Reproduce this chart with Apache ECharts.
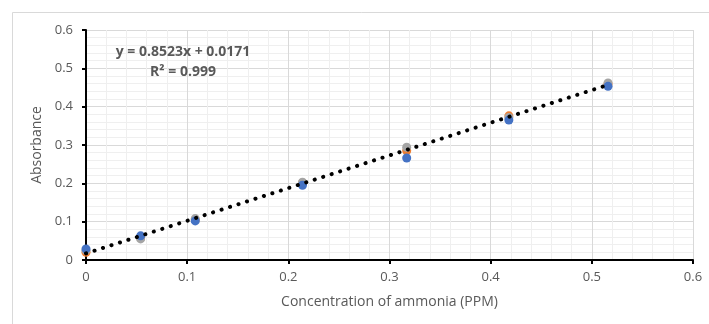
<!DOCTYPE html>
<html>
<head>
<meta charset="utf-8">
<script src="https://cdn.jsdelivr.net/npm/echarts@6/dist/echarts.min.js"></script>
<style>html,body{margin:0;padding:0;background:#fff;}#c{width:709px;height:324px;}</style>
</head>
<body>
<div id="c"></div>
<script>
// Concentration of ammonia (PPM)
const xValues = [0, 0.054, 0.108, 0.214, 0.317, 0.418, 0.516];
// three replicate absorbance readings
const seriesOrange = [0.020, 0.058, 0.105, 0.201, 0.285, 0.376, 0.459];
const seriesGray = [0.025, 0.055, 0.108, 0.203, 0.294, 0.372, 0.462];
const seriesBlue = [0.029, 0.063, 0.102, 0.195, 0.266, 0.365, 0.453];
// linear trendline endpoints (y = 0.8523x + 0.0171)
const trendX = [0, 0.516];
const trendY = [0.0171, 0.4569];
const equationText = 'y = 0.8523x + 0.0171';
const r2Text = 'R² = 0.999';
const xTitle = 'Concentration of ammonia (PPM)';
const yTitle = 'Absorbance';

const font = '"Open Sans", "Liberation Sans", sans-serif';
const pairs = ys => xValues.map((x, i) => [x, ys[i]]);
const sc = (name, color, ys) => ({
  name, type: 'scatter', data: pairs(ys), symbolSize: 9,
  itemStyle: { color, opacity: 1 }, z: 3
});

const chart = echarts.init(document.getElementById('c'), null, { renderer: 'canvas' });
chart.setOption({
  animation: false,
  backgroundColor: '#fff',
  grid: { left: 86, right: 16, top: 30, bottom: 64 },
  xAxis: {
    type: 'value', min: 0, max: 0.6, interval: 0.1,
    name: xTitle, nameLocation: 'middle', nameGap: 35,
    nameTextStyle: { color: '#595959', fontSize: 14, fontFamily: font },
    axisLine: { show: true, onZero: false, lineStyle: { color: '#000', width: 2 } },
    axisTick: { show: true, length: 4, lineStyle: { color: '#000', width: 2 } },
    axisLabel: { color: '#595959', fontSize: 13, fontFamily: font, margin: 11 },
    splitLine: { show: true, lineStyle: { color: '#d9d9d9', width: 1 } },
    minorTick: { show: false, splitNumber: 5 },
    minorSplitLine: { show: true, lineStyle: { color: '#efefef', width: 1 } }
  },
  yAxis: {
    type: 'value', min: 0, max: 0.6, interval: 0.1,
    name: yTitle, nameLocation: 'middle', nameGap: 39, nameRotate: 90,
    nameTextStyle: { color: '#595959', fontSize: 14, fontFamily: font },
    axisLine: { show: true, onZero: false, lineStyle: { color: '#000', width: 2 } },
    axisTick: { show: true, length: 4, lineStyle: { color: '#000', width: 2 } },
    axisLabel: { color: '#595959', fontSize: 13, fontFamily: font, margin: 13 },
    splitLine: { show: true, lineStyle: { color: '#d9d9d9', width: 1 } },
    minorTick: { show: false, splitNumber: 5 },
    minorSplitLine: { show: true, lineStyle: { color: '#efefef', width: 1 } }
  },
  series: [
    sc('Orange', '#ed7d31', seriesOrange),
    sc('Gray', '#a5a5a5', seriesGray),
    sc('Blue', '#4472c4', seriesBlue),
    {
      name: 'Trend', type: 'line', data: trendX.map((x, i) => [x, trendY[i]]),
      showSymbol: false, symbol: 'none', z: 5,
      lineStyle: { color: '#000', width: 4, type: [0.1, 8.8], cap: 'round' }
    }
  ],
  graphic: [
    { type: 'rect', left: 10, top: 10, shape: { width: 760, height: 400 },
      style: { fill: 'none', stroke: '#d9d9d9', lineWidth: 1 }, z: -10, silent: true },
    { type: 'text', x: 183, y: 52, style: { text: equationText, fill: '#595959',
      font: 'bold 14px ' + font, textAlign: 'center', textVerticalAlign: 'middle' }, z: 20 },
    { type: 'text', x: 183, y: 72, style: { text: r2Text, fill: '#595959',
      font: 'bold 14px ' + font, textAlign: 'center', textVerticalAlign: 'middle' }, z: 20 }
  ]
});
</script>
</body>
</html>
